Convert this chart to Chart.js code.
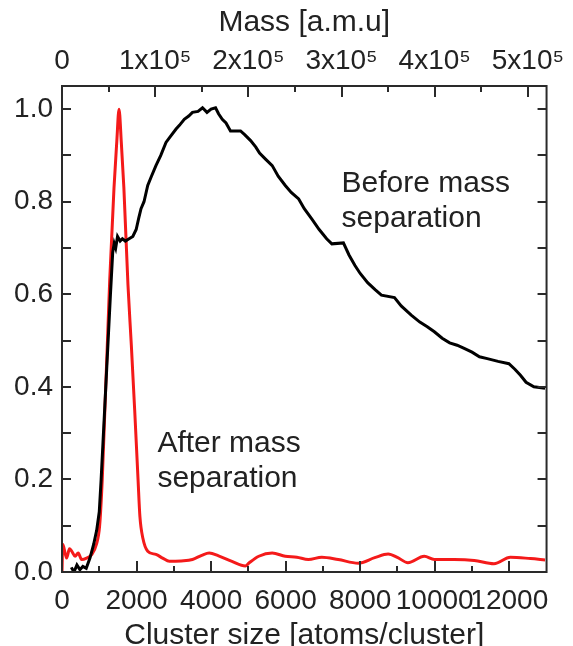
<!DOCTYPE html>
<html><head><meta charset="utf-8">
<script src="https://cdn.jsdelivr.net/npm/chart.js@4/dist/chart.umd.min.js"></script>
<style>html,body{margin:0;padding:0;background:#fff}#wrap{width:573px;height:646px;position:relative}</style>
</head><body><div id="wrap"><canvas id="c"></canvas></div>
<script>
// ---- data ----
const beforeSize  = [250,320,400,480,560,650,750,850,930,1000,1050,1100,1150,1200,1250,1300,1360,1400,1440,1490,1560,1620,1700,1800,1900,1990,2060,2120,2200,2300,2400,2520,2650,2790,2900,3060,3150,3280,3400,3500,3650,3770,3890,4000,4120,4200,4300,4400,4520,4650,4790,4900,5060,5200,5300,5460,5640,5800,5990,6150,6350,6500,6700,6900,7100,7240,7550,7700,7860,8000,8200,8400,8570,8920,9100,9370,9600,9800,9990,10200,10400,10600,10790,11000,11200,11410,11700,11990,12150,12300,12450,12660,12960];
const beforeValue = [0.01,0.0,0.015,0.005,0.012,0.008,0.03,0.06,0.09,0.13,0.2,0.28,0.36,0.44,0.52,0.6,0.69,0.71,0.70,0.725,0.715,0.72,0.715,0.72,0.725,0.74,0.765,0.785,0.80,0.835,0.855,0.878,0.90,0.928,0.94,0.957,0.965,0.978,0.985,0.993,0.995,1.003,0.993,1.0,1.003,0.99,0.978,0.97,0.953,0.953,0.953,0.945,0.932,0.918,0.905,0.892,0.878,0.855,0.835,0.82,0.806,0.785,0.763,0.74,0.72,0.709,0.711,0.685,0.662,0.645,0.625,0.61,0.598,0.593,0.575,0.555,0.54,0.53,0.519,0.505,0.495,0.49,0.483,0.475,0.465,0.461,0.455,0.45,0.438,0.425,0.41,0.40,0.397];
const afterSize   = [0,20,125,200,260,350,435,525,660,790,925,1010,1080,1150,1220,1280,1395,1470,1530,1590,1660,1770,1860,1950,2040,2090,2170,2300,2520,2700,2880,3200,3500,3750,3950,4200,4560,4920,5010,5280,5640,5990,6300,6610,6970,7410,7950,8390,8750,9010,9280,9720,9990,10520,11060,11590,12030,12570,12960];
const afterValue  = [0.0,0.06,0.03,0.05,0.045,0.034,0.041,0.027,0.03,0.037,0.06,0.1,0.2,0.35,0.5,0.63,0.83,0.93,1.0,0.93,0.83,0.62,0.49,0.35,0.2,0.12,0.073,0.045,0.038,0.03,0.023,0.024,0.027,0.036,0.041,0.035,0.023,0.013,0.019,0.034,0.041,0.034,0.032,0.027,0.032,0.027,0.019,0.031,0.039,0.031,0.02,0.034,0.027,0.027,0.025,0.018,0.032,0.029,0.026];

const sizeTicks  = [0,2000,4000,6000,8000,10000,12000];
const massTicks  = [0,100000,200000,300000,400000,500000];
const valueTicks = [0.0,0.2,0.4,0.6,0.8,1.0];
const sizeRange  = [0,13000];
const valueRange = [0,1.05];
const amuPerAtom = 40;

const xTitle   = 'Cluster size [atoms/cluster]';
const topTitle = 'Mass [a.m.u]';
const beforeLabel = ['Before mass','separation'];
const afterLabel  = ['After mass','separation'];

// ---- chart ----
const FONT = "'Liberation Sans', Arial, Helvetica, sans-serif";
const TXT = '#222';
Chart.defaults.font.family = FONT;
Chart.defaults.color = TXT;

const pts = (xs, ys) => xs.map((x, i) => ({x, y: ys[i]}));

const frameTicks = {
  id: 'frameTicks',
  afterDraw(chart) {
    const {ctx, chartArea: a, scales} = chart;
    const sx = scales.x, sm = scales.xTop, sy = scales.y;
    ctx.save();
    ctx.strokeStyle = '#2a2a2a';
    ctx.lineWidth = 2;
    ctx.lineCap = 'butt';
    ctx.beginPath();
    // bottom ticks
    for (let v = sizeRange[0] + 1000; v < sizeRange[1]; v += 1000) {
      const p = Math.round(sx.getPixelForValue(v));
      const len = (v % 2000 === 0) ? 11 : 6;
      ctx.moveTo(p, a.bottom); ctx.lineTo(p, a.bottom - len);
    }
    // top ticks
    for (let v = 50000; v < sm.max; v += 50000) {
      const p = Math.round(sm.getPixelForValue(v));
      const len = (v % 100000 === 0) ? 11 : 6;
      ctx.moveTo(p, a.top); ctx.lineTo(p, a.top + len);
    }
    // left / right ticks
    for (let k = 1; k <= 10; k++) {
      const v = k / 10;
      const p = Math.round(sy.getPixelForValue(v));
      ctx.moveTo(a.left, p); ctx.lineTo(a.left + 9, p);
      ctx.moveTo(a.right, p); ctx.lineTo(a.right - 9, p);
    }
    ctx.stroke();
    ctx.strokeRect(a.left, a.top, a.right - a.left, a.bottom - a.top);

    // annotations
    ctx.fillStyle = TXT;
    ctx.font = '30px ' + FONT;
    ctx.textAlign = 'left';
    ctx.textBaseline = 'alphabetic';
    let bx = sx.getPixelForValue(7500), by = sy.getPixelForValue(0.82);
    beforeLabel.forEach((t, i) => ctx.fillText(t, bx, by + i * 35));
    let ax = sx.getPixelForValue(2560), ay = sy.getPixelForValue(0.26);
    afterLabel.forEach((t, i) => ctx.fillText(t, ax, ay + i * 35));
    ctx.restore();
  }
};

new Chart(document.getElementById('c'), {
  type: 'line',
  data: {
    datasets: [
      {label: 'Before mass separation', data: pts(beforeSize, beforeValue), borderColor: '#000', borderWidth: 3, pointRadius: 0, tension: 0, xAxisID: 'x', yAxisID: 'y'},
      {label: 'After mass separation', data: pts(afterSize, afterValue), borderColor: '#f41a1a', borderWidth: 3, pointRadius: 0, cubicInterpolationMode: 'monotone', xAxisID: 'x', yAxisID: 'y'}
    ]
  },
  options: {
    responsive: true, maintainAspectRatio: false, animation: false, devicePixelRatio: 1,
    layout: {padding: {left: 0, right: 24, top: 0, bottom: 0}},
    plugins: {legend: {display: false}, tooltip: {enabled: false}},
    scales: {
      x: {
        type: 'linear', position: 'bottom', min: sizeRange[0], max: sizeRange[1],
        afterBuildTicks: s => { s.ticks = sizeTicks.map(v => ({value: v})); },
        ticks: {autoSkip: false, maxRotation: 0, minRotation: 0, padding: 12, font: {size: 28}, color: TXT, callback: v => String(v)},
        grid: {display: false, drawTicks: false}, border: {display: false},
        title: {display: true, text: xTitle, font: {size: 30, lineHeight: 0.6}, color: TXT, padding: {top: 0, bottom: 1}},
        afterFit: s => { s.height = 74; }
      },
      xTop: {
        type: 'linear', position: 'top', min: sizeRange[0] * amuPerAtom, max: sizeRange[1] * amuPerAtom,
        afterBuildTicks: s => { s.ticks = massTicks.map(v => ({value: v})); },
        ticks: {autoSkip: false, maxRotation: 0, minRotation: 0, padding: 8, font: {size: 28}, color: TXT,
          callback: v => v === 0 ? '0' : (v / 100000) + 'x10\u2075'},
        grid: {display: false, drawTicks: false}, border: {display: false},
        title: {display: true, text: topTitle, font: {size: 30, lineHeight: 0.6}, color: TXT, padding: {top: 14, bottom: 0}},
        afterFit: s => { s.height = 86; }
      },
      y: {
        type: 'linear', position: 'left', min: valueRange[0], max: valueRange[1],
        afterBuildTicks: s => { s.ticks = valueTicks.map(v => ({value: v})); },
        ticks: {autoSkip: false, padding: 9, font: {size: 28}, color: TXT, callback: v => v.toFixed(1)},
        grid: {display: false, drawTicks: false}, border: {display: false},
        afterFit: s => { s.width = 62; }
      }
    }
  },
  plugins: [frameTicks]
});
</script>
</body></html>
